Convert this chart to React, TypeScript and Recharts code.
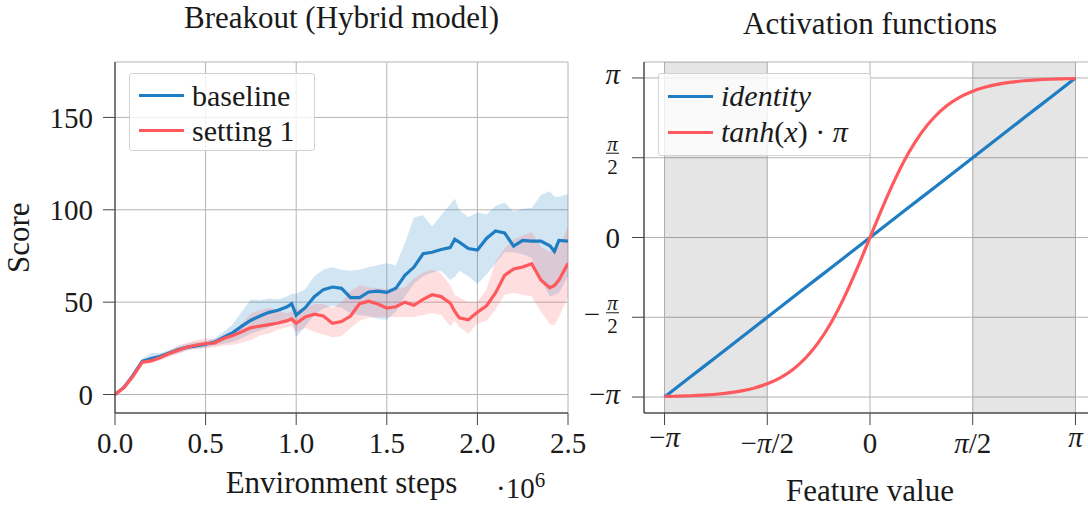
import React from "react";
import {
  ComposedChart,
  Line,
  Area,
  XAxis,
  YAxis,
  CartesianGrid,
  ReferenceArea,
} from "recharts";

const FONT = "'Liberation Serif', 'Times New Roman', serif";
const INK = "#1a1a1a";
const TICK_INK = "#444";
const GRID = "#b4b4b4";
const BLUE = "#1f7dc3";
const RED = "#ff595e";

// Breakout (Hybrid model) — environment steps in millions
const STEPS = [
  0, 0.05, 0.1, 0.15, 0.2, 0.25, 0.3, 0.35, 0.4, 0.45, 0.5, 0.55, 0.6, 0.65, 0.7, 0.75, 0.8, 0.85,
  0.9, 0.95, 0.975, 1.0, 1.05, 1.1, 1.15, 1.2, 1.25, 1.3, 1.35, 1.4, 1.45, 1.5, 1.55, 1.6, 1.65,
  1.7, 1.75, 1.8, 1.85, 1.875, 1.9, 1.95, 2.0, 2.05, 2.1, 2.15, 2.2, 2.25, 2.3, 2.35, 2.4, 2.425,
  2.45, 2.5,
];
const BASELINE = [
  0, 4, 10.5, 18, 19.5, 20.7, 22.5, 24.3, 25.7, 26.3, 27.2, 28.4, 31, 33.5, 37, 40.2, 42.5, 44.5,
  45.6, 47.5, 49.2, 43, 47, 53, 56.8, 58.2, 57.5, 52.5, 52.5, 55.5, 56, 55.3, 57.5, 64.5, 69,
  76.2, 77, 78.5, 79.5, 84, 82.5, 79, 78.2, 84.5, 88.5, 87.5, 80.3, 83.4, 83, 83, 80.5, 77.5,
  83.4, 83,
];
const BASELINE_LO = [
  -0.5, 3, 9, 16.5, 18, 19, 21, 22.5, 24, 25, 25.5, 26.5, 27.5, 28.5, 30.5, 33, 34.5, 36.5, 38,
  39, 40, 31, 37, 43, 46.5, 48, 47, 44, 43, 42.5, 41, 40.5, 45, 53, 60, 64, 66, 67, 62, 63.6, 67,
  64, 60, 65, 71, 77, 77, 76, 74, 62, 53, 54, 55, 64,
];
const BASELINE_HI = [
  0.5, 5, 12, 19.5, 22.5, 22.5, 24, 26, 27.5, 28.5, 29, 30.5, 34, 38, 45, 51.5, 51, 52, 51.5, 53,
  54.5, 54.5, 57, 64, 67.5, 69, 67.5, 67, 67.5, 69, 70, 71, 70, 82, 96, 97, 91, 97, 103, 106, 100,
  96, 98.5, 97.5, 102, 104, 99, 100.5, 101, 108, 110, 107, 107, 108.6,
];
const SETTING1 = [
  0, 3.8, 10, 17.5, 18.2, 20, 22.2, 24, 25.7, 26.8, 27.6, 27.9, 30.3, 32, 34, 36.2, 37, 37.8,
  38.7, 40, 41, 38.5, 42, 43.5, 42.5, 38.5, 39.5, 42.5, 49.2, 50.5, 49, 46.8, 47.5, 50, 48.3,
  51.5, 54, 53, 49.5, 45, 41.5, 40.5, 44.5, 48, 55, 64.5, 68, 69, 70.8, 62, 57.8, 59, 62, 71,
];
const SETTING1_LO = [
  -0.5, 2.8, 8.5, 16, 17, 18.5, 20.5, 22, 24, 24.5, 25, 25.5, 26.5, 27, 28, 29.5, 32, 33, 35,
  36.5, 37, 34, 36, 34, 32.5, 31, 31.5, 36, 40, 41.5, 42, 42, 42, 42, 42, 43, 44, 43, 37, 40,
  36.5, 33, 38.5, 40, 46, 54, 55, 54, 53, 45, 38, 37.5, 42, 53,
];
const SETTING1_HI = [
  0.5, 4.8, 11.5, 19, 20, 21.5, 24, 26.5, 28, 29.5, 30.5, 30, 32, 34, 38.5, 44, 45.5, 47, 45.5,
  44, 45, 46, 47, 49, 49, 47, 50, 56, 59, 58, 57.5, 57, 57.5, 58, 63, 66, 67.5, 65.5, 59, 54,
  52.5, 50, 50, 57, 72, 79, 84, 86, 88, 80, 77, 79.8, 80, 91,
];
const STEP_TICKS = [0, 0.5, 1, 1.5, 2, 2.5];
const SCORE_TICKS = [0, 50, 100, 150];

// Activation functions
const FEATURE_X = [
  -3.1416, -2.9452, -2.7489, -2.5525, -2.3562, -2.1598, -1.9635, -1.7671, -1.5708, -1.3744,
  -1.1781, -0.9817, -0.7854, -0.589, -0.3927, -0.1963, 0, 0.1963, 0.3927, 0.589, 0.7854, 0.9817,
  1.1781, 1.3744, 1.5708, 1.7671, 1.9635, 2.1598, 2.3562, 2.5525, 2.7489, 2.9452, 3.1416,
];
const IDENTITY = [
  -3.1416, -2.9452, -2.7489, -2.5525, -2.3562, -2.1598, -1.9635, -1.7671, -1.5708, -1.3744,
  -1.1781, -0.9817, -0.7854, -0.589, -0.3927, -0.1963, 0, 0.1963, 0.3927, 0.589, 0.7854, 0.9817,
  1.1781, 1.3744, 1.5708, 1.7671, 1.9635, 2.1598, 2.3562, 2.5525, 2.7489, 2.9452, 3.1416,
];
const TANH_PI = [
  -3.13, -3.124, -3.116, -3.104, -3.086, -3.059, -3.02, -2.964, -2.881, -2.764, -2.598, -2.368,
  -2.06, -1.663, -1.174, -0.609, 0, 0.609, 1.174, 1.663, 2.06, 2.368, 2.598, 2.764, 2.881, 2.964,
  3.02, 3.059, 3.086, 3.104, 3.116, 3.124, 3.13,
];
const PI = Math.PI;
const PI_TICKS = [-PI, -PI / 2, 0, PI / 2, PI];
const PI_X_LABELS = ["−π", "−π/2", "0", "π/2", "π"];
const PI_Y_LABELS = ["−π", "−π/2", "0", "π/2", "π"];
const PI_DOMAIN = [-1.1 * PI, 1.1 * PI];
const GRAY_BANDS = [
  [-PI, -PI / 2],
  [PI / 2, PI],
];

const breakoutData = STEPS.map((step, i) => ({
  step,
  baseline: BASELINE[i],
  baselineBand: [BASELINE_LO[i], BASELINE_HI[i]],
  setting1: SETTING1[i],
  setting1Band: [SETTING1_LO[i], SETTING1_HI[i]],
}));

const activationData = FEATURE_X.map((x, i) => ({
  x,
  identity: IDENTITY[i],
  tanh: TANH_PI[i],
}));

const TICK_FONT = 29;

function withPi(label: string) {
  return label.split(/(π)/).map((part, i) =>
    part === "π" ? (
      <tspan key={i} fontStyle="italic">
        π
      </tspan>
    ) : (
      <tspan key={i}>{part}</tspan>
    )
  );
}

function PiXTick({ x, y, index }: any) {
  const label = PI_X_LABELS[index];
  const piOnly = label === "−π" || label === "π";
  return (
    <text
      x={x}
      y={y}
      dy={piOnly ? 15 : 20.6}
      textAnchor="middle"
      fontFamily={FONT}
      fontSize={TICK_FONT}
      fill={INK}
    >
      {withPi(label)}
    </text>
  );
}

function PiYTick({ x, y, index }: any) {
  const label = PI_Y_LABELS[index];
  const common = { fontFamily: FONT, fill: INK };
  if (label.endsWith("/2")) {
    const neg = label.startsWith("−");
    return (
      <g>
        {neg && (
          <text x={x - 20} y={y + 7} textAnchor="end" fontSize={TICK_FONT} {...common}>
            −
          </text>
        )}
        <text x={x - 7.5} y={y - 7} textAnchor="middle" fontSize={21} fontStyle="italic" {...common}>
          π
        </text>
        <line x1={x - 14} x2={x - 1} y1={y - 4.5} y2={y - 4.5} stroke={INK} strokeWidth={1} />
        <text x={x - 7.5} y={y + 16} textAnchor="middle" fontSize={21} {...common}>
          2
        </text>
      </g>
    );
  }
  return (
    <text
      x={x}
      y={y}
      dy={label === "0" ? 10 : 6.5}
      textAnchor="end"
      fontSize={TICK_FONT}
      {...common}
    >
      {withPi(label)}
    </text>
  );
}

function Caption({
  children,
  cx,
  baseline,
  size = 31,
  rotate = false,
}: {
  children: React.ReactNode;
  cx: number;
  baseline: number;
  size?: number;
  rotate?: boolean;
}) {
  return (
    <div
      style={{
        position: "absolute",
        left: cx - 200,
        top: baseline - 0.8375 * size,
        width: 400,
        textAlign: "center",
        fontFamily: FONT,
        fontSize: size,
        lineHeight: `${size}px`,
        color: INK,
        whiteSpace: "nowrap",
        transform: rotate ? "rotate(-90deg)" : undefined,
        transformOrigin: rotate ? `200px ${0.8375 * size - 0.3 * size}px` : undefined,
      }}
    >
      {children}
    </div>
  );
}

function LegendBox({
  left,
  top,
  width,
  height,
  rows,
}: {
  left: number;
  top: number;
  width: number;
  height: number;
  rows: { label: React.ReactNode; color: string; y: number }[];
}) {
  return (
    <div
      style={{
        position: "absolute",
        left,
        top,
        width,
        height,
        boxSizing: "border-box",
        background: "rgba(255,255,255,0.8)",
        border: "1px solid #d2d2d2",
        borderRadius: 3,
      }}
    >
      {rows.map((r, i) => (
        <div
          key={i}
          style={{
            position: "absolute",
            left: 9,
            top: r.y - 15,
            height: 30,
            display: "flex",
            alignItems: "center",
            whiteSpace: "nowrap",
          }}
        >
          <span style={{ display: "inline-block", width: 45, height: 3, background: r.color }} />
          <span
            style={{
              marginLeft: 8,
              fontFamily: FONT,
              fontSize: 30,
              lineHeight: "30px",
              color: INK,
            }}
          >
            {r.label}
          </span>
        </div>
      ))}
    </div>
  );
}

function BreakoutChart() {
  return (
    <div style={{ position: "absolute", left: 0, top: 0, width: 600, height: 511 }}>
      <ComposedChart
        width={600}
        height={511}
        data={breakoutData}
        margin={{ top: 62, right: 32, bottom: 0, left: 0 }}
      >
        <CartesianGrid stroke={GRID} strokeWidth={1} />
        <XAxis
          type="number"
          dataKey="step"
          domain={[0, 2.5]}
          ticks={STEP_TICKS}
          interval={0}
          allowDataOverflow
          tickFormatter={(v: number) => v.toFixed(1)}
          height={98}
          tickSize={12}
          tickMargin={7}
          axisLine={{ stroke: INK }}
          tickLine={{ stroke: TICK_INK }}
          tick={{ fill: INK, fontSize: TICK_FONT, fontFamily: FONT }}
        />
        <XAxis
          xAxisId="top"
          orientation="top"
          type="number"
          domain={[0, 2.5]}
          allowDataOverflow
          height={0}
          tick={false}
          tickLine={false}
          axisLine={{ stroke: INK }}
        />
        <YAxis
          type="number"
          domain={[-10, 180]}
          ticks={SCORE_TICKS}
          interval={0}
          allowDataOverflow
          width={115}
          tickSize={12}
          tickMargin={10}
          axisLine={{ stroke: INK }}
          tickLine={{ stroke: TICK_INK }}
          tick={{ fill: INK, fontSize: TICK_FONT, fontFamily: FONT }}
        />
        <YAxis
          yAxisId="right"
          orientation="right"
          type="number"
          domain={[-10, 180]}
          allowDataOverflow
          width={0}
          tick={false}
          tickLine={false}
          axisLine={{ stroke: INK }}
        />
        <Area
          dataKey="baselineBand"
          stroke="none"
          fill={BLUE}
          fillOpacity={0.2}
          activeDot={false}
          isAnimationActive={false}
        />
        <Area
          dataKey="setting1Band"
          stroke="none"
          fill={RED}
          fillOpacity={0.2}
          activeDot={false}
          isAnimationActive={false}
        />
        <Line
          dataKey="baseline"
          type="linear"
          stroke={BLUE}
          strokeWidth={3.2}
          dot={false}
          activeDot={false}
          isAnimationActive={false}
        />
        <Line
          dataKey="setting1"
          type="linear"
          stroke={RED}
          strokeWidth={3.2}
          dot={false}
          activeDot={false}
          isAnimationActive={false}
        />
      </ComposedChart>
    </div>
  );
}

function ActivationChart() {
  return (
    <div style={{ position: "absolute", left: 580, top: 0, width: 530, height: 511 }}>
      <ComposedChart
        width={530}
        height={511}
        data={activationData}
        margin={{ top: 62, right: 14, bottom: 0, left: 0 }}
      >
        <CartesianGrid stroke={GRID} strokeWidth={1} />
        {GRAY_BANDS.map(([a, b], i) => (
          <ReferenceArea
            key={i}
            x1={a}
            x2={b}
            fill="#000"
            fillOpacity={0.1}
            stroke="none"
          />
        ))}
        <XAxis
          type="number"
          dataKey="x"
          domain={PI_DOMAIN}
          ticks={PI_TICKS}
          interval={0}
          allowDataOverflow
          height={98}
          tickSize={12}
          tickMargin={7}
          axisLine={{ stroke: INK }}
          tickLine={{ stroke: TICK_INK }}
          tick={<PiXTick />}
        />
        <XAxis
          xAxisId="top"
          orientation="top"
          type="number"
          domain={PI_DOMAIN}
          allowDataOverflow
          height={0}
          tick={false}
          tickLine={false}
          axisLine={{ stroke: INK }}
        />
        <YAxis
          type="number"
          domain={PI_DOMAIN}
          ticks={PI_TICKS}
          interval={0}
          allowDataOverflow
          width={64}
          tickSize={12}
          tickMargin={12}
          axisLine={{ stroke: INK }}
          tickLine={{ stroke: TICK_INK }}
          tick={<PiYTick />}
        />
        <Line
          dataKey="identity"
          type="linear"
          stroke={BLUE}
          strokeWidth={3.2}
          dot={false}
          activeDot={false}
          isAnimationActive={false}
        />
        <Line
          dataKey="tanh"
          type="monotone"
          stroke={RED}
          strokeWidth={3.2}
          dot={false}
          activeDot={false}
          isAnimationActive={false}
        />
      </ComposedChart>
    </div>
  );
}

export default function App() {
  return (
    <div
      style={{
        position: "absolute",
        left: 0,
        top: 0,
        width: 1088,
        height: 511,
        overflow: "hidden",
        background: "#fff",
      }}
    >
      <BreakoutChart />
      <ActivationChart />

      <Caption cx={341.5} baseline={28}>Breakout (Hybrid model)</Caption>
      <Caption cx={870} baseline={34}>Activation functions</Caption>
      <Caption cx={341.5} baseline={493}>Environment steps</Caption>
      <Caption cx={870} baseline={501}>Feature value</Caption>
      <Caption cx={20} baseline={247} rotate>
        Score
      </Caption>
      <div
        style={{
          position: "absolute",
          left: 496,
          top: 498 - 0.8375 * 29,
          fontFamily: FONT,
          fontSize: 29,
          lineHeight: "29px",
          color: INK,
          whiteSpace: "nowrap",
        }}
      >
        ·10<span style={{ fontSize: 21, position: "relative", top: -11 }}>6</span>
      </div>

      <LegendBox
        left={129}
        top={73}
        width={186}
        height={78}
        rows={[
          { label: "baseline", color: BLUE, y: 21.5 },
          { label: "setting 1", color: RED, y: 56.5 },
        ]}
      />
      <LegendBox
        left={658}
        top={73}
        width={213}
        height={83}
        rows={[
          { label: <i>identity</i>, color: BLUE, y: 22 },
          {
            label: (
              <span>
                <i>tanh</i>(<i>x</i>) · <i>π</i>
              </span>
            ),
            color: RED,
            y: 58,
          },
        ]}
      />
    </div>
  );
}
